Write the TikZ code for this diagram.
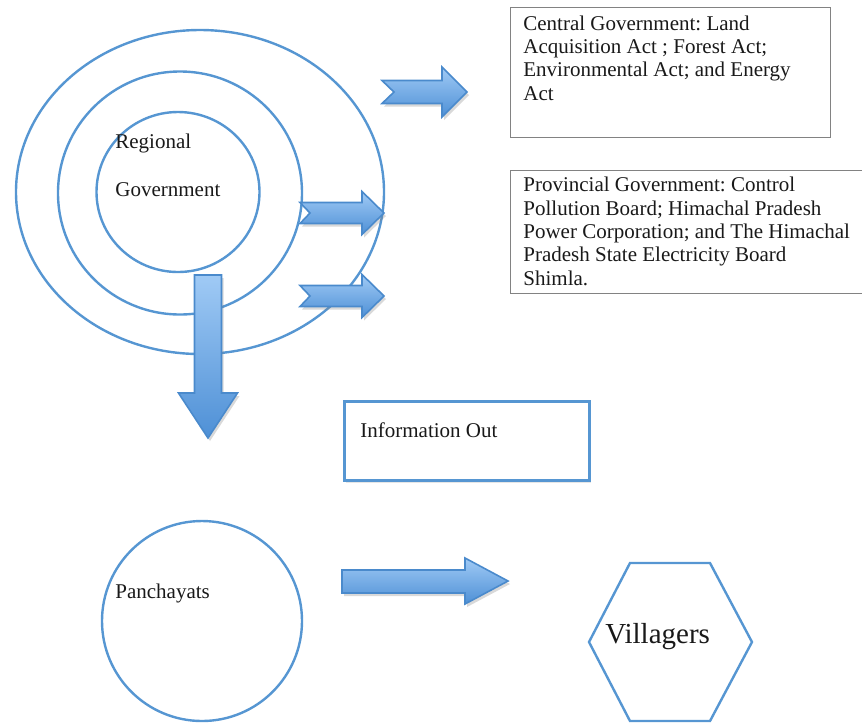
\documentclass[tikz,border=0pt]{standalone}
\usepackage{fontspec}
\setmainfont{Liberation Serif}
\usetikzlibrary{shapes.geometric,shadows}
\frenchspacing

\definecolor{ringblue}{RGB}{86,150,210}
\definecolor{arrowtop}{RGB}{160,202,245}
\definecolor{arrowbot}{RGB}{78,144,214}
\definecolor{arrowline}{RGB}{74,138,204}
\definecolor{panelgrey}{RGB}{130,130,130}

\begin{document}
\begin{tikzpicture}[x=0.5pt,y=-0.5pt]

  % node styles
  \tikzstyle{Ring}=[draw=ringblue,line width=1.2pt,shape=ellipse,inner sep=0pt]

  \tikzstyle{Panel}=[
  draw=panelgrey,
  line width=0.5pt,
  shape=rectangle,
  inner sep=0pt,
  anchor=north west]

  % base of a multi-line label is its last line
  \tikzstyle{Label}=[font=\fontsize{10.5}{11.65}\selectfont,anchor=base west,
  inner sep=0pt,align=left,text=black!90]

  \tikzstyle{Block}=[draw=arrowline,line width=0.8pt,top color=arrowtop,
  bottom color=arrowbot,
  drop shadow={shadow xshift=1pt,shadow yshift=-1.5pt,opacity=0.3}]

  \clip (0,0) rectangle (862,725);

  % rings of the regional government
  \node[Ring,minimum width=184pt,minimum height=162pt] (outer) at (200,192) {};
  \node[Ring,minimum width=122pt,minimum height=121.5pt] (middle) at (180,193) {};
  \node[Ring,minimum width=81.5pt,minimum height=80pt] (inner) at (178,192) {};

  \node[Label] (regional) at (115,148) {Regional};
  \node[Label] (regionalgov) at (115,196) {Government};

  % the two act boxes
  \node[Panel,minimum width=160pt,minimum height=65pt] (central) at (510,7) {};
  \node[Panel,minimum width=178pt,minimum height=61.5pt] (provincial) at (510,170) {};

  \node[Label] (centraltext) at (523,100)
  {Central Government: Land\\Acquisition Act ; Forest Act;\\Environmental Act; and Energy\\Act};
  \node[Label] (provincialtext) at (523,285)
  {Provincial Government: Control\\Pollution Board; Himachal Pradesh\\Power Corporation; and The Himachal\\Pradesh State Electricity Board\\Shimla.};

  \node[Panel,draw=ringblue,line width=1.4pt,fill=white,minimum width=122.5pt,
  minimum height=39.5pt,drop shadow={shadow xshift=1pt,shadow yshift=-1.5pt,opacity=0.2}]
  (info) at (343,400) {};
  \node[Label] (infotext) at (360,437) {Information Out};

  % lower level
  \node[Ring,minimum width=100pt,minimum height=100pt] (panchayats) at (202,621) {};
  \node[Label] (panchayatstext) at (115,598) {Panchayats};

  \draw[draw=ringblue,line width=1.2pt,line join=miter]
  (630,563) -- (710,563) -- (752,642) -- (710,721) -- (630,721) -- (589,642) -- cycle;
  \node[Label,font=\fontsize{14.5}{17}\selectfont] (villagers) at (605,643) {Villagers};

  % block arrows
  \path[Block] (382,80.5) -- (442,80.5) -- (442,67) -- (467,92) -- (442,117)
  -- (442,103.5) -- (382,103.5) -- (394,92) -- cycle;
  \path[Block] (300,202.5) -- (362,202.5) -- (362,191.5) -- (384,213) -- (362,234.5)
  -- (362,223.5) -- (300,223.5) -- (310,213) -- cycle;
  \path[Block] (300,285.5) -- (362,285.5) -- (362,274.5) -- (384,296) -- (362,317.5)
  -- (362,306.5) -- (300,306.5) -- (310,296) -- cycle;
  \path[Block] (194.5,275) -- (221.5,275) -- (221.5,393) -- (237.5,393) -- (208,438)
  -- (178.5,393) -- (194.5,393) -- cycle;
  \path[Block] (342,570) -- (465,570) -- (465,558) -- (508,581) -- (465,604)
  -- (465,593) -- (342,593) -- cycle;

\end{tikzpicture}
\end{document}
